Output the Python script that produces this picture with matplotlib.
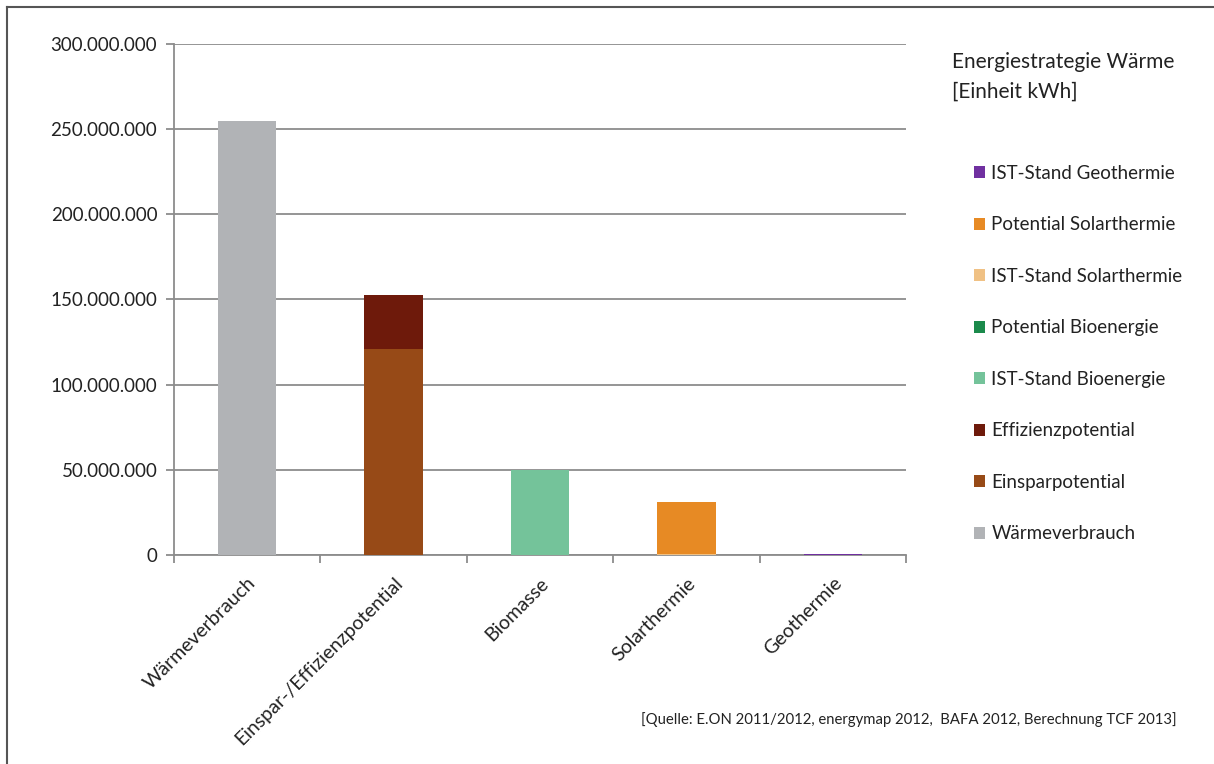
"""Energiestrategie Wärme - stacked bar chart recreation."""

import numpy as np
import matplotlib
matplotlib.use("Agg")
import matplotlib.pyplot as plt
from matplotlib.lines import Line2D
from matplotlib.patches import Patch

plt.rcParams["font.family"] = ["Lato", "DejaVu Sans"]

CATEGORIES = ["Wärmeverbrauch", "Einspar-/Effizienzpotential", "Biomasse",
              "Solarthermie", "Geothermie"]

# stacked series, bottom to top (values in kWh per category)
SERIES = ["Wärmeverbrauch", "Einsparpotential", "Effizienzpotential",
          "IST-Stand Bioenergie", "Potential Bioenergie",
          "IST-Stand Solarthermie", "Potential Solarthermie",
          "IST-Stand Geothermie"]
waermeverbrauch = [255_000_000, 0, 0, 0, 0]
einsparpotential = [0, 121_000_000, 0, 0, 0]
effizienzpotential = [0, 31_500_000, 0, 0, 0]
ist_bio = [0, 0, 49_800_000, 0, 0]
potential_bio = [0, 0, -1_000_000, 0, 0]
ist_solar = [0, 0, 0, 400_000, 0]
potential_solar = [0, 0, 0, 30_700_000, 0]
ist_geo = [0, 0, 0, 0, 600_000]

COLORS = ["#B1B3B6", "#974A17", "#6E1A0B", "#74C39A", "#1B8A4B",
          "#F0C184", "#E78A24", "#7030A0"]

values = [waermeverbrauch, einsparpotential, effizienzpotential, ist_bio,
          potential_bio, ist_solar, potential_solar, ist_geo]

fig = plt.figure(figsize=(12.14, 7.64), dpi=100)
ax = fig.add_axes([0.1433, 0.2736, 0.6030, 0.6688])

x = np.arange(len(CATEGORIES))
pos_base = np.zeros(len(CATEGORIES))
neg_base = np.zeros(len(CATEGORIES))
for vals, color in zip(values, COLORS):
    vals = np.array(vals, dtype=float)
    bottom = np.where(vals >= 0, pos_base, neg_base)
    ax.bar(x, vals, width=0.4, bottom=bottom, color=color, zorder=3)
    pos_base += np.clip(vals, 0, None)
    neg_base += np.clip(vals, None, 0)

grid_color = "#8C8C8C"
ax.set_xlim(-0.5, len(CATEGORIES) - 0.5)
ax.set_ylim(0, 300_000_000)
ax.set_yticks(np.arange(0, 300_000_001, 50_000_000))
ax.set_yticklabels([f"{v:,}".replace(",", ".") for v in
                    range(0, 300_000_001, 50_000_000)])
ax.yaxis.grid(True, color=grid_color, linewidth=1.3, zorder=0)
ax.set_axisbelow(True)

ax.set_xticks(np.arange(-0.5, len(CATEGORIES), 1.0))
ax.set_xticklabels([])
ax.set_xticks(x, minor=True)
ax.set_xticklabels(CATEGORIES, minor=True, rotation=45, ha="right",
                   rotation_mode="anchor", fontsize=14, color="#222222")
ax.tick_params(axis="x", which="minor", length=0, pad=14)
ax.tick_params(axis="x", which="major", length=6, width=1.3, color=grid_color)
ax.tick_params(axis="y", length=6, width=1.3, color=grid_color,
               labelsize=13.5, labelcolor="#222222", pad=6)

for side in ("top", "right"):
    ax.spines[side].set_visible(False)
for side in ("left", "bottom"):
    ax.spines[side].set_color(grid_color)
    ax.spines[side].set_linewidth(1.3)

fig.text(0.784, 0.932, "Energiestrategie Wärme\n[Einheit kWh]", fontsize=15,
         color="#222222", va="top", linespacing=1.6)

handles = [Patch(facecolor=c, edgecolor="none") for c in COLORS][::-1]
fig.legend(handles, SERIES[::-1], loc="upper left",
           bbox_to_anchor=(0.788, 0.8065), frameon=False, fontsize=13.5,
           handlelength=0.6, handleheight=0.6, handletextpad=0.35,
           labelspacing=1.84, labelcolor="#222222")

fig.text(0.528, 0.058,
         "[Quelle: E.ON 2011/2012, energymap 2012,  BAFA 2012, Berechnung TCF 2013]",
         fontsize=10.75, color="#222222", va="center")

# frame around the chart area (left and top edge visible)
fig.add_artist(Line2D([7 / 1214, 7 / 1214], [0, 1 - 7 / 764],
                      transform=fig.transFigure, color="#555555", linewidth=1.5))
fig.add_artist(Line2D([7 / 1214, 1], [1 - 7 / 764, 1 - 7 / 764],
                      transform=fig.transFigure, color="#555555", linewidth=1.5))

fig.savefig("out.png", dpi=100)
